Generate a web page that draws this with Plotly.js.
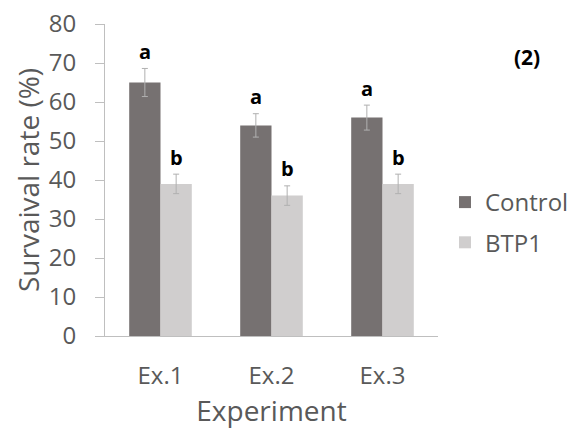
<!DOCTYPE html>
<html>
<head>
<meta charset="utf-8">
<script src="https://cdn.plot.ly/plotly-3.0.1.min.js"></script>
<style>html,body{margin:0;padding:0;background:#fff;}#chart{width:586px;height:429px;}</style>
</head>
<body>
<div id="chart"></div>
<script>
var categories = ["Ex.1", "Ex.2", "Ex.3"];
var controlValues = [65, 54, 56];
var controlErrors = [3.6, 3, 3.2];
var btp1Values = [39, 36, 39];
var btp1Errors = [2.5, 2.5, 2.5];
var controlLetters = ["a", "a", "a"];
var btp1Letters = ["b", "b", "b"];
var yTicks = [0, 10, 20, 30, 40, 50, 60, 70, 80];

var FONT = "Open Sans, Liberation Sans, sans-serif";
var errStyle = {type: "data", visible: true, color: "#b0b0b0", thickness: 1, width: 3};

var traces = [
  {type: "bar", name: "Control", x: categories, y: controlValues,
   error_y: Object.assign({array: controlErrors}, errStyle),
   marker: {color: "#767171"}, offsetgroup: "c", legendgroup: "c"},
  {type: "bar", name: "BTP1", x: categories, y: btp1Values,
   error_y: Object.assign({array: btp1Errors}, errStyle),
   marker: {color: "#d0cece"}, offsetgroup: "b", legendgroup: "b"}
];

var annotations = [];
function addLetters(vals, errs, letters, shift) {
  for (var i = 0; i < categories.length; i++) {
    annotations.push({
      x: categories[i], y: vals[i] + errs[i], xref: "x", yref: "y",
      text: "<b>" + letters[i] + "</b>", showarrow: false,
      xshift: shift, yshift: 17,
      font: {family: FONT, size: 20, color: "#000"}
    });
  }
}
addLetters(controlValues, controlErrors, controlLetters, -15.5);
addLetters(btp1Values, btp1Errors, btp1Letters, 15.5);
annotations.push({
  xref: "paper", yref: "paper", x: 1.266, y: 0.894, xanchor: "center", yanchor: "middle",
  text: "<b>(2)</b>", showarrow: false, font: {family: FONT, size: 21, color: "#000"}
});

var layout = {
  width: 586, height: 429,
  margin: {l: 105, r: 146, t: 24, b: 93},
  paper_bgcolor: "#fff", plot_bgcolor: "#fff",
  barmode: "group", bargap: 0.436, bargroupgap: 0,
  font: {family: FONT, color: "#595959"},
  xaxis: {
    type: "category", showline: true, linecolor: "#bfbfbf", linewidth: 1,
    ticks: "", ticklabelstandoff: 18, tickfont: {family: FONT, size: 24, color: "#595959"},
    title: {text: "Experiment", font: {family: FONT, size: 28, color: "#595959"}, standoff: 14},
    showgrid: false, zeroline: false, fixedrange: true
  },
  yaxis: {
    range: [0, 80], tickvals: yTicks, showline: true, linecolor: "#bfbfbf", linewidth: 1,
    ticks: "outside", ticklen: 9, tickcolor: "#bfbfbf", ticklabelstandoff: 14,
    tickfont: {family: FONT, size: 24, color: "#595959"},
    title: {text: "Survaival rate (%)", font: {family: FONT, size: 28, color: "#595959"}, standoff: 0},
    showgrid: false, zeroline: false, fixedrange: true
  },
  legend: {
    x: 1.021, y: 0.50, xanchor: "left", yanchor: "top",
    font: {family: FONT, size: 24, color: "#595959"},
    traceorder: "grouped", tracegroupgap: 6, itemwidth: 30
  },
  annotations: annotations,
  showlegend: true
};

Plotly.newPlot("chart", traces, layout, {displayModeBar: false, staticPlot: true});
</script>
</body>
</html>
